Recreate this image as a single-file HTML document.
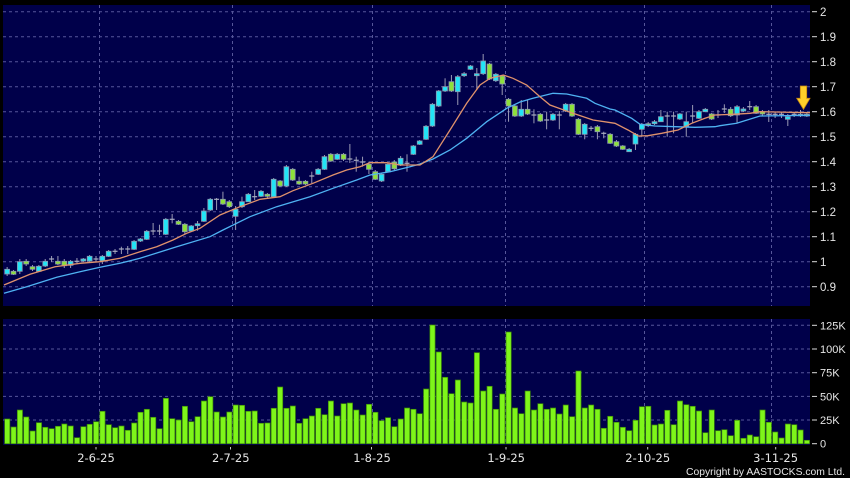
<!DOCTYPE html>
<html><head><meta charset="utf-8">
<style>
html,body{margin:0;padding:0;background:#000;width:850px;height:478px;overflow:hidden}
svg{display:block}
text{font-family:"Liberation Sans",sans-serif;fill:#e6e6e6}
</style></head>
<body>
<svg id="s" width="850" height="478" viewBox="0 0 850 478" xmlns="http://www.w3.org/2000/svg">
<rect x="0" y="0" width="850" height="478" fill="#000"/>
<rect x="3" y="5" width="807" height="301" fill="#00004a"/>
<rect x="3" y="319" width="807" height="126" fill="#00004a"/>
<g id="grid" stroke="#56569a" stroke-width="1" stroke-dasharray="3,3" fill="none">
<line x1="3" x2="810" y1="11.7" y2="11.7"/>
<line x1="3" x2="810" y1="36.7" y2="36.7"/>
<line x1="3" x2="810" y1="61.7" y2="61.7"/>
<line x1="3" x2="810" y1="86.7" y2="86.7"/>
<line x1="3" x2="810" y1="111.7" y2="111.7"/>
<line x1="3" x2="810" y1="136.7" y2="136.7"/>
<line x1="3" x2="810" y1="161.7" y2="161.7"/>
<line x1="3" x2="810" y1="186.7" y2="186.7"/>
<line x1="3" x2="810" y1="211.7" y2="211.7"/>
<line x1="3" x2="810" y1="236.7" y2="236.7"/>
<line x1="3" x2="810" y1="261.7" y2="261.7"/>
<line x1="3" x2="810" y1="286.7" y2="286.7"/>
<line x1="99.5" x2="99.5" y1="5" y2="306"/>
<line x1="232.5" x2="232.5" y1="5" y2="306"/>
<line x1="372.5" x2="372.5" y1="5" y2="306"/>
<line x1="505.5" x2="505.5" y1="5" y2="306"/>
<line x1="644.5" x2="644.5" y1="5" y2="306"/>
<line x1="771.5" x2="771.5" y1="5" y2="306"/>
<line x1="3" x2="810" y1="325.3" y2="325.3"/>
<line x1="3" x2="810" y1="349" y2="349"/>
<line x1="3" x2="810" y1="372.7" y2="372.7"/>
<line x1="3" x2="810" y1="396.4" y2="396.4"/>
<line x1="3" x2="810" y1="420" y2="420"/>
<line x1="99.5" x2="99.5" y1="319" y2="445"/>
<line x1="232.5" x2="232.5" y1="319" y2="445"/>
<line x1="372.5" x2="372.5" y1="319" y2="445"/>
<line x1="505.5" x2="505.5" y1="319" y2="445"/>
<line x1="644.5" x2="644.5" y1="319" y2="445"/>
<line x1="771.5" x2="771.5" y1="319" y2="445"/>
</g>
<g id="vol"></g>
<g id="cand"></g>
<polyline fill="none" stroke="#4fb2f2" stroke-width="1.3" points="4,293.3 26.7,286.7 56.7,277.3 80,271.7 100,267.3 120,263.3 140,258.3 176.7,246.7 210,236.7 223,230 250,216.7 276.7,206.7 310,196.7 333,188.3 356.7,180 370,175 390,171.7 410,166.7 420,164 433,159 450,150 466.7,138.3 486.7,121.7 506.7,108.3 520,102 533,98.3 553,93.3 566.7,94 586.7,98.3 595,103.3 610,109 615,110 631.7,118.3 640,124.3 655,126 675,126.7 695,127.3 715,126.7 720,125.7 736.7,123.3 760,116 810,115.3"/>
<polyline fill="none" stroke="#e0926c" stroke-width="1.3" points="4,285 30,274.3 55,266.7 80,263.3 100,261.7 120,258.3 140,251.7 156.7,246.7 173,240 186.7,233.3 200,228.3 220,215 240,206.7 260,199.3 280,196.7 293,190.7 313,183.3 333,175 346.7,170 360,166.7 370,162.7 386.7,162.7 400,165 420,165 433,156.7 450,130 466.7,103.3 480,85 490,78.3 503.3,75 513,78.3 526.7,85 540,96.7 550,105 573,113.3 593,120 615,123.3 628,130 638.3,136 648,135.7 661.7,133.3 678,130 691.7,123.3 705,118.3 715,115 733,114.3 750,113.3 760,111.7 810,112.7"/>
<path d="M800.3,86 H806.7 V98.3 H810 L803.5,109.3 L796.7,98.3 H800.3 Z" fill="#ffcf2a" stroke="#c98a10" stroke-width="0.8"/>
<g stroke="#dcdcdc" stroke-width="1">
<line x1="812" x2="817" y1="11.7" y2="11.7"/><line x1="812" x2="817" y1="36.7" y2="36.7"/>
<line x1="812" x2="817" y1="61.7" y2="61.7"/><line x1="812" x2="817" y1="86.7" y2="86.7"/>
<line x1="812" x2="817" y1="111.7" y2="111.7"/><line x1="812" x2="817" y1="136.7" y2="136.7"/>
<line x1="812" x2="817" y1="161.7" y2="161.7"/><line x1="812" x2="817" y1="186.7" y2="186.7"/>
<line x1="812" x2="817" y1="211.7" y2="211.7"/><line x1="812" x2="817" y1="236.7" y2="236.7"/>
<line x1="812" x2="817" y1="261.7" y2="261.7"/><line x1="812" x2="817" y1="286.7" y2="286.7"/>
<line x1="812" x2="817" y1="325.3" y2="325.3"/><line x1="812" x2="817" y1="349" y2="349"/>
<line x1="812" x2="817" y1="372.7" y2="372.7"/><line x1="812" x2="817" y1="396.4" y2="396.4"/>
<line x1="812" x2="817" y1="420" y2="420"/><line x1="812" x2="817" y1="443.7" y2="443.7"/>
</g>
<g stroke="#c8c8c8" stroke-width="1">
<line x1="96" x2="96" y1="447" y2="449.5"/><line x1="230.5" x2="230.5" y1="447" y2="449.5"/>
<line x1="371.5" x2="371.5" y1="447" y2="449.5"/><line x1="506" x2="506" y1="447" y2="449.5"/>
<line x1="647.7" x2="647.7" y1="447" y2="449.5"/><line x1="775.7" x2="775.7" y1="447" y2="449.5"/>
</g>
<g font-size="11.5">
<text x="820" y="15.8">2</text>
<text x="820" y="40.8">1.9</text>
<text x="820" y="65.8">1.8</text>
<text x="820" y="90.8">1.7</text>
<text x="820" y="115.8">1.6</text>
<text x="820" y="140.8">1.5</text>
<text x="820" y="165.8">1.4</text>
<text x="820" y="190.8">1.3</text>
<text x="820" y="215.8">1.2</text>
<text x="820" y="240.8">1.1</text>
<text x="820" y="265.8">1</text>
<text x="820" y="290.8">0.9</text>
</g>
<g font-size="11">
<text x="820" y="329.3">125K</text>
<text x="820" y="353">100K</text>
<text x="820" y="376.7">75K</text>
<text x="820" y="400.4">50K</text>
<text x="820" y="424">25K</text>
<text x="820" y="447.7">0</text>
</g>
<g font-size="11.5" text-anchor="middle" style="font-family:'DejaVu Sans',sans-serif">
<text x="96" y="462" style="font-family:'DejaVu Sans',sans-serif">2-6-25</text>
<text x="230.8" y="462" style="font-family:'DejaVu Sans',sans-serif">2-7-25</text>
<text x="372" y="462" style="font-family:'DejaVu Sans',sans-serif">1-8-25</text>
<text x="506.2" y="462" style="font-family:'DejaVu Sans',sans-serif">1-9-25</text>
<text x="647.7" y="462" style="font-family:'DejaVu Sans',sans-serif">2-10-25</text>
<text x="775.6" y="462" style="font-family:'DejaVu Sans',sans-serif">3-11-25</text>
</g>
<text x="686" y="475" font-size="10.5" textLength="159" lengthAdjust="spacingAndGlyphs">Copyright by AASTOCKS.com Ltd.</text>
</svg>
<script>
(function(){
var NS="http://www.w3.org/2000/svg";
var V=[419,427,410,417,431,422.7,427.3,428.7,426.3,424,426,437.7,426.7,424.3,421.7,411.3,424.7,427.7,426,430.3,423,412.3,409.3,417.3,428.7,398.3,418.7,420,406.3,421.7,416.7,401,396.7,412,417,412,405,405.3,411.3,411,423.3,423,408.3,387,408.3,406,423.3,418.7,416,408.3,414.7,401,416,403.7,403,410,415,404.3,412.3,420.7,417.7,426.7,419,408,409.3,413.7,389,325,352,377.3,393.7,380,402,403,352.7,391,386.3,409.3,394,332,408,413.7,391,410,403.7,409.3,408,414,405,416.7,371,408,405,409.3,428.3,416.3,422.3,427.3,430.7,420.3,406.7,406.3,425,424,410.3,424.7,401,404.7,406.3,411,432.7,410,430.7,429.7,435.7,420.3,438.3,435,436.7,410,422.3,432,438,424,424.7,430,440.3];
var C=[
['c',269.3,274,267,276],['g',271.3,274.3,270,275],['c',261.7,271.3,259,274],['g',261.3,264,259,266],['g',266.7,269.3,265,271],
['c',266.3,271.3,265,272],['c',261.3,266,259,267],['d',259,259,256,262],['g',261.3,264,256,265],['g',261.3,265.7,259,268],
['c',261.3,265.3,260,268],['d',261.3,261.3,258,263],['c',259,261,258,262],['c',256.3,261,255,262],['d',259,259,256,262],
['c',256.3,260.7,255,264],['c',251.3,256.3,250,257],['d',251.3,251.3,249,254],['d',249,249,246.7,254],['d',249,249,246,254],
['c',241.3,249.3,240,250],['c',239,241,238,242],['c',231.3,239.3,230,240],['d',231,231,223,235],['d',231,231,224.7,235],
['c',219.3,234.3,218,235],['d',219.3,219.3,214,223.3],['g',221.3,224.3,220,225],['g',224.3,231.7,223,234],['c',226,231,225,232],
['c',223.7,225.7,221,230.7],['c',211,221.3,208,222],['c',199.3,210,198,211],['d',199.3,199.3,198,210],['g',199.3,204,191.7,205],
['g',201.7,206.7,200,208],['c',209.3,216.3,206,230],['c',201.7,206.7,196.7,208],['c',194.3,201.7,193,202],['d',196.7,196.7,190,200],
['c',191.3,196.3,190,197],['g',194.3,196.3,193,198],['c',179.3,196.7,178,198],['g',181,186,180,187],['c',166.7,186,165,187],
['g',169.3,180,168,181],['g',181.3,184,176.7,185],['g',181.3,184,180,185],['d',176,176,171.7,183.3],['c',169.3,174.3,168,175],
['c',156.7,169.3,155,170],['g',154.3,161,153,162],['c',154.3,159.3,153,160],['g',154.3,159.3,153,161],['d',159,159,144,163],
['d',160.3,160.3,156.7,171.7],['d',162,162,156.7,166.7],['g',164.3,169.3,161.7,174],['g',171.7,179.3,170,180],['c',174.3,181,173,182],
['c',164.3,171.7,163,172],['g',162,168.7,160,170],['c',158.3,165,156,166],['d',163.3,163.3,154.3,171.7],['c',146,154.3,145,155],
['c',141,144.3,140,145],['c',126.3,139.3,125,140],['c',104.3,126,103,127],['c',91,106,90,107],['c',86.7,91,78.3,92],
['g',81.7,91,75,92],['c',76.7,91.7,75,105],['c',73.7,75.7,72,77],['c',66,69.3,65,70],['c',73.7,75.7,68,90],
['c',61,73.7,54,75],['g',64,79,63,80],['c',74.3,80.7,73,82],['g',76,84,75,95],['g',99.3,106,98,121.7],
['g',106,116,105,117],['c',109.3,116,100,117],['g',109.3,114,100,115],['d',115,115,109.3,123.3],['g',114.3,121,113,122],
['d',120,120,111.7,129.3],['c',114.3,120,113,121],['d',115,115,111,129.3],['c',104.3,111,103,112],['g',104.3,116,103,117],
['g',119.3,134.3,118,135],['c',124.3,134.3,123,139.3],['d',128.3,128.3,126,131],['g',126.7,131.7,125,139.3],['d',133.3,133.3,131.7,138.3],
['g',134.3,143.3,133,144],['g',141.7,146,140,147],['g',146,149.3,145,150],['c',149.3,151.7,148,152],['c',134.3,144,133,150],
['c',124.3,129.3,123,136.7],['g',123.7,125.7,122,127],['c',121.7,123.7,120,125],['c',116.7,121.7,110,122],['d',116,116,111.7,136.7],
['d',116,116,111.7,133.3],['c',114,119,113,120],['c',121.7,126.7,111.7,136.7],['d',116,116,105,123.3],['c',111.7,118.3,110,119],
['c',109.3,111.7,108,112],['g',114,119,113,120],['d',115,115,110,118],['d',109,109,104.3,113],['g',109.3,115.7,107,117],
['c',106.7,115,105,123],['c',109,111,107,112],['d',106.7,106.7,101,110],['g',106.7,113.3,105,114],['g',111.7,114,110,116],
['d',114.3,114.3,110,122],['d',114.3,114.3,112,118],['d',114.3,114.3,112,118],['c',116.7,119.3,114,126],['d',114.3,114.3,112,117],
['c',114.3,115.7,110,117],['g',114.3,116,113,117]
];
var vg=document.getElementById('vol'),cg=document.getElementById('cand');
function el(t,a,p){var e=document.createElementNS(NS,t);for(var k in a)e.setAttribute(k,a[k]);p.appendChild(e);return e;}
var sp=6.347,x0=4.33;
for(var i=0;i<V.length;i++){
  var x=x0+i*sp;
  el('rect',{x:(x+0.3).toFixed(2),y:V[i],width:5.2,height:(443.7-V[i]).toFixed(2),fill:'#7ef51a',stroke:'#3d8a08','stroke-width':0.7},vg);
}
for(var j=0;j<C.length;j++){
  var d=C[j],xl=x0+j*sp,cx=xl+2.8;
  el('line',{x1:cx.toFixed(2),x2:cx.toFixed(2),y1:d[3],y2:d[4],stroke:'#9a9ab4','stroke-width':1},cg);
  if(d[0]==='d'){
    el('line',{x1:(xl+0.3).toFixed(2),x2:(xl+5.3).toFixed(2),y1:d[1],y2:d[1],stroke:'#a8acc0','stroke-width':1.2},cg);
  }else{
    var h=Math.max(d[2]-d[1],1.5);
    el('rect',{x:(xl+0.4).toFixed(2),y:d[1],width:4.8,height:h.toFixed(2),fill:d[0]==='c'?'#22e4f6':'#8ee03a',stroke:'#8a98b0','stroke-width':0.8},cg);
  }
}
})();
</script>
</body></html>
